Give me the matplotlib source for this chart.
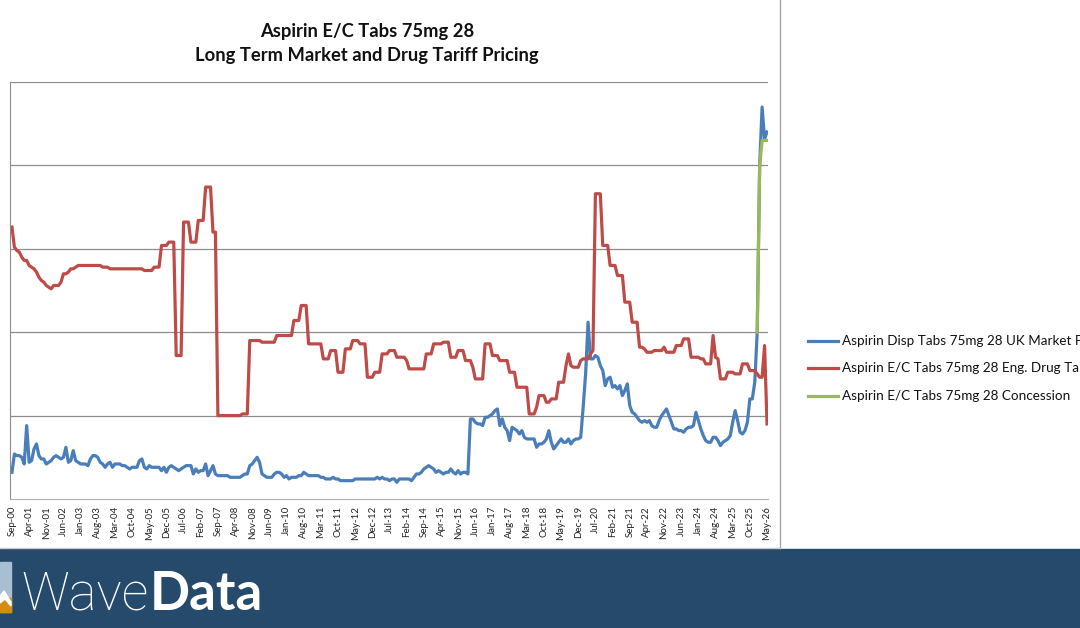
import matplotlib
matplotlib.use("Agg")
import matplotlib.pyplot as plt
import numpy as np
import pandas as pd
from matplotlib.lines import Line2D
from matplotlib.patches import Rectangle, Polygon

plt.rcParams['font.family'] = ['Lato', 'DejaVu Sans']

months = [p.strftime('%b-%y') for p in pd.period_range('2000-09', '2026-05', freq='M')]

market = [
    0.16, 0.27, 0.26, 0.26, 0.25, 0.21, 0.44, 0.22, 0.23, 0.30, 0.33, 0.26,
    0.24, 0.24, 0.21, 0.22, 0.23, 0.25, 0.26, 0.25, 0.24, 0.25, 0.31, 0.22,
    0.23, 0.29, 0.23, 0.22, 0.21, 0.21, 0.21, 0.20, 0.24, 0.26, 0.26, 0.25,
    0.22, 0.21, 0.19, 0.21, 0.22, 0.19, 0.21, 0.21, 0.21, 0.20, 0.20, 0.19,
    0.18, 0.19, 0.19, 0.19, 0.23, 0.24, 0.19, 0.18, 0.20, 0.19, 0.19, 0.19,
    0.19, 0.17, 0.19, 0.16, 0.19, 0.20, 0.19, 0.18, 0.17, 0.18, 0.19, 0.20,
    0.20, 0.20, 0.15, 0.18, 0.16, 0.17, 0.17, 0.21, 0.14, 0.17, 0.20, 0.15,
    0.14, 0.14, 0.14, 0.14, 0.14, 0.13, 0.13, 0.13, 0.13, 0.13, 0.14, 0.15,
    0.15, 0.20, 0.21, 0.23, 0.25, 0.22, 0.15, 0.14, 0.13, 0.13, 0.13, 0.15,
    0.16, 0.16, 0.15, 0.13, 0.14, 0.12, 0.13, 0.13, 0.13, 0.14, 0.14, 0.16,
    0.15, 0.14, 0.14, 0.14, 0.14, 0.14, 0.13, 0.13, 0.12, 0.12, 0.12, 0.13,
    0.12, 0.12, 0.11, 0.11, 0.11, 0.11, 0.11, 0.11, 0.12, 0.12, 0.12, 0.12,
    0.12, 0.12, 0.12, 0.12, 0.12, 0.13, 0.12, 0.13, 0.12, 0.12, 0.11, 0.12,
    0.12, 0.10, 0.12, 0.12, 0.12, 0.12, 0.12, 0.11, 0.13, 0.15, 0.15, 0.16,
    0.18, 0.19, 0.20, 0.19, 0.18, 0.16, 0.17, 0.16, 0.15, 0.16, 0.16, 0.18,
    0.16, 0.15, 0.17, 0.15, 0.16, 0.16, 0.15, 0.48, 0.48, 0.46, 0.45, 0.45,
    0.44, 0.49, 0.49, 0.50, 0.51, 0.53, 0.54, 0.44, 0.48, 0.43, 0.41, 0.35,
    0.43, 0.42, 0.41, 0.39, 0.41, 0.37, 0.36, 0.36, 0.36, 0.36, 0.31, 0.33,
    0.33, 0.34, 0.36, 0.41, 0.34, 0.30, 0.32, 0.34, 0.36, 0.34, 0.34, 0.36,
    0.33, 0.35, 0.36, 0.36, 0.37, 0.55, 0.75, 1.06, 0.84, 0.84, 0.86, 0.85,
    0.80, 0.77, 0.68, 0.72, 0.73, 0.67, 0.68, 0.66, 0.68, 0.62, 0.65, 0.69,
    0.56, 0.52, 0.51, 0.49, 0.47, 0.46, 0.47, 0.46, 0.47, 0.44, 0.43, 0.43,
    0.47, 0.50, 0.52, 0.54, 0.50, 0.46, 0.42, 0.42, 0.41, 0.41, 0.40, 0.42,
    0.43, 0.43, 0.44, 0.52, 0.47, 0.42, 0.38, 0.35, 0.34, 0.34, 0.37, 0.37,
    0.35, 0.32, 0.34, 0.35, 0.36, 0.38, 0.46, 0.53, 0.47, 0.40, 0.39, 0.41,
    0.46, 0.60, 0.60, 0.70, 1.00, 2.00, 2.35, 2.16, 2.20,
]

tariff = [
    1.63, 1.51, 1.49, 1.48, 1.45, 1.43, 1.43, 1.40, 1.39, 1.38, 1.36, 1.33,
    1.31, 1.30, 1.28, 1.27, 1.26, 1.28, 1.28, 1.28, 1.30, 1.35, 1.35, 1.36,
    1.38, 1.38, 1.39, 1.40, 1.40, 1.40, 1.40, 1.40, 1.40, 1.40, 1.40, 1.40,
    1.40, 1.39, 1.39, 1.39, 1.38, 1.38, 1.38, 1.38, 1.38, 1.38, 1.38, 1.38,
    1.38, 1.38, 1.38, 1.38, 1.38, 1.38, 1.37, 1.37, 1.37, 1.37, 1.39, 1.39,
    1.39, 1.52, 1.52, 1.52, 1.54, 1.54, 1.54, 0.86, 0.86, 0.86, 1.66, 1.66,
    1.66, 1.54, 1.54, 1.54, 1.67, 1.67, 1.67, 1.87, 1.87, 1.87, 1.60, 1.60,
    0.50, 0.50, 0.50, 0.50, 0.50, 0.50, 0.50, 0.50, 0.50, 0.50, 0.51, 0.51,
    0.51, 0.95, 0.95, 0.95, 0.95, 0.95, 0.94, 0.94, 0.94, 0.94, 0.94, 0.94,
    0.98, 0.98, 0.98, 0.98, 0.98, 0.98, 0.98, 1.07, 1.07, 1.07, 1.16, 1.16,
    1.16, 0.93, 0.93, 0.93, 0.93, 0.93, 0.93, 0.84, 0.84, 0.84, 0.89, 0.89,
    0.89, 0.76, 0.76, 0.76, 0.90, 0.90, 0.90, 0.95, 0.95, 0.95, 0.93, 0.93,
    0.93, 0.73, 0.73, 0.73, 0.76, 0.76, 0.76, 0.87, 0.87, 0.87, 0.89, 0.89,
    0.89, 0.85, 0.85, 0.85, 0.85, 0.83, 0.78, 0.78, 0.78, 0.78, 0.78, 0.78,
    0.78, 0.87, 0.87, 0.87, 0.93, 0.93, 0.93, 0.93, 0.94, 0.94, 0.94, 0.85,
    0.85, 0.85, 0.89, 0.89, 0.89, 0.83, 0.83, 0.83, 0.79, 0.72, 0.72, 0.72,
    0.72, 0.93, 0.93, 0.93, 0.86, 0.86, 0.86, 0.83, 0.83, 0.83, 0.83, 0.76,
    0.76, 0.76, 0.67, 0.67, 0.67, 0.67, 0.67, 0.51, 0.51, 0.51, 0.55, 0.62,
    0.62, 0.62, 0.58, 0.58, 0.60, 0.60, 0.60, 0.70, 0.70, 0.70, 0.80, 0.87,
    0.80, 0.79, 0.79, 0.79, 0.83, 0.84, 0.84, 0.84, 0.87, 0.89, 1.83, 1.83,
    1.83, 1.52, 1.52, 1.52, 1.40, 1.40, 1.40, 1.34, 1.34, 1.34, 1.18, 1.18,
    1.18, 1.06, 1.06, 1.06, 0.91, 0.91, 0.90, 0.88, 0.88, 0.88, 0.89, 0.89,
    0.89, 0.89, 0.91, 0.88, 0.88, 0.88, 0.88, 0.92, 0.92, 0.92, 0.96, 0.96,
    0.96, 0.85, 0.85, 0.85, 0.85, 0.84, 0.84, 0.81, 0.81, 0.81, 0.98, 0.85,
    0.84, 0.72, 0.72, 0.72, 0.76, 0.76, 0.76, 0.75, 0.75, 0.75, 0.81, 0.81,
    0.81, 0.77, 0.77, 0.77, 0.75, 0.73, 0.73, 0.92, 0.45,
]

concession_months = ['Jan-26', 'Feb-26', 'Mar-26', 'Apr-26', 'May-26']
concession = [1.00, 2.00, 2.15, 2.15, 2.15]

names = ['Aspirin Disp Tabs 75mg 28 UK Market Price',
         'Aspirin E/C Tabs 75mg 28 Eng. Drug Tariff',
         'Aspirin E/C Tabs 75mg 28 Concession']
colors = ['#4a7ebb', '#be4b48', '#98b954']

W, H = 1080, 628
fig = plt.figure(figsize=(W / 100, H / 100), dpi=100)

def fx(x):
    return x / W

def fy(y):
    return 1 - y / H

ax = fig.add_axes([fx(10), fy(499), (768 - 10) / W, (499 - 82) / H])

x = np.arange(len(months))
conc = np.full(len(months), np.nan)
for m, v in zip(concession_months, concession):
    conc[months.index(m)] = v

ax.plot(x, market, color=colors[0], lw=2.3, solid_joinstyle='round')
ax.plot(x, tariff, color=colors[1], lw=2.3, solid_joinstyle='round')
ax.plot(x, conc, color=colors[2], lw=2.3, solid_joinstyle='round')

ax.set_xlim(-0.8, len(months) - 0.6)
ax.set_ylim(0, 2.5)
ax.set_yticks([0.5, 1.0, 1.5, 2.0, 2.5])
ax.set_yticklabels([])
ax.tick_params(axis='y', length=0)
ax.grid(axis='y', color='#8c8c8c', lw=0.9)
ax.set_axisbelow(True)

ticks = list(range(0, len(months), 7))
ax.set_xticks(ticks)
ax.set_xticklabels([months[i] for i in ticks], rotation=90, fontsize=7, color='#222222')
ax.tick_params(axis='x', length=0, pad=5)

for s in ['top', 'right']:
    ax.spines[s].set_visible(False)
ax.spines['left'].set_color('#8c8c8c')
ax.spines['bottom'].set_color('#b0b0b0')

fig.text(fx(367), fy(31), 'Aspirin E/C Tabs 75mg 28', ha='center', va='center',
         fontsize=13.2, fontweight='bold', color='#111111')
fig.text(fx(367), fy(56), 'Long Term Market and Drug Tariff Pricing', ha='center', va='center',
         fontsize=13.2, fontweight='bold', color='#111111')

# legend, cut off by the right edge like the original
for i, yy in enumerate([341, 368, 396]):
    fig.add_artist(Line2D([fx(808), fx(838)], [fy(yy), fy(yy)], color=colors[i], lw=2.3))
    fig.text(fx(842), fy(yy), names[i], ha='left', va='center', fontsize=9.7, color='#111111')

# chart area border
fig.add_artist(Line2D([fx(780), fx(780)], [fy(0), fy(548)], color='#a6a6a6', lw=1))
fig.add_artist(Line2D([0, fx(780)], [fy(548), fy(548)], color='#c8c8c8', lw=1))

# WaveData banner
fig.patches.append(Rectangle((0, 0), 1, fy(549), transform=fig.transFigure,
                             color='#264a6b', zorder=0))
fig.patches.append(Rectangle((0, fy(612)), fx(11), (612 - 562) / H, transform=fig.transFigure,
                             color='#a7bfd0', zorder=1))
fig.patches.append(Rectangle((0, fy(612)), fx(11), (612 - 598) / H, transform=fig.transFigure,
                             color='#d38e12', zorder=1))
fig.patches.append(Polygon([[0, fy(596)], [fx(4), fy(591)], [fx(11), fy(602)],
                            [fx(11), fy(606)], [fx(5), fy(599)], [0, fy(603)]],
                           closed=True, transform=fig.transFigure, color='white', zorder=2))
fig.text(fx(21), fy(610), 'Wave', ha='left', va='baseline', fontsize=38,
         family=['Roboto', 'Lato'], fontweight='light', color='white')
fig.text(fx(150), fy(610), 'Data', ha='left', va='baseline', fontsize=38,
         fontweight='bold', color='white')

plt.savefig('out.png', dpi=100)
